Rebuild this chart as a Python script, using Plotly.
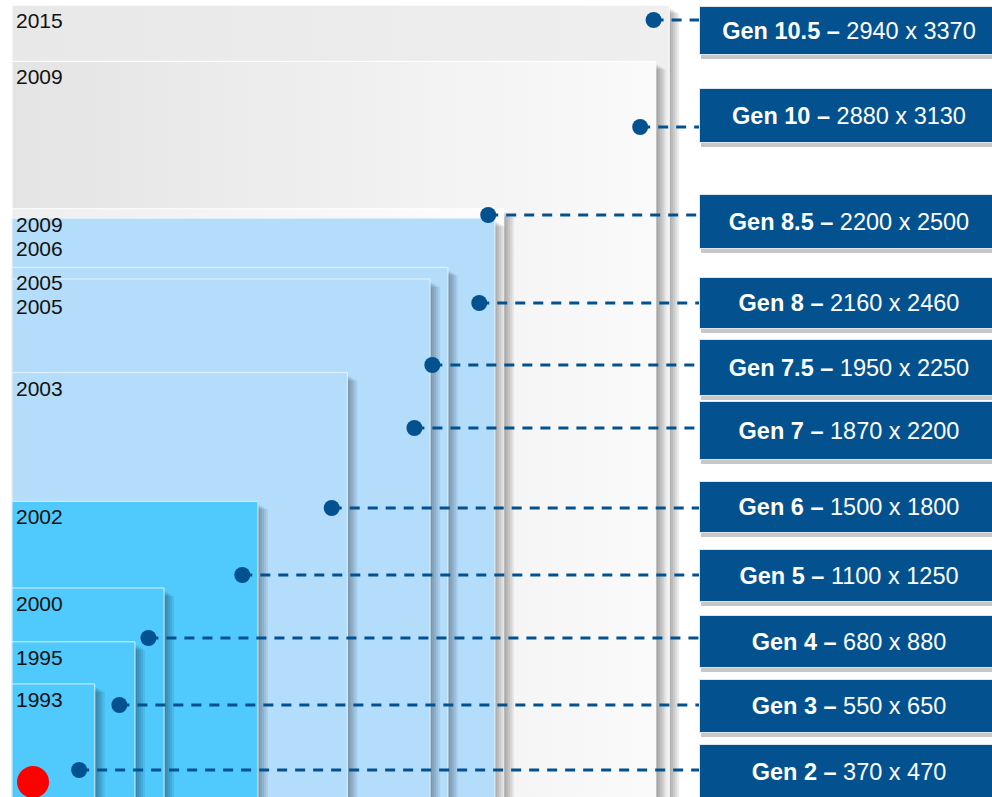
import plotly.graph_objects as go

# LCD mother-glass generations, smallest to largest (sizes in mm)
gens = ["2", "3", "4", "5", "6", "7", "7.5", "8", "8.5", "10", "10.5"]
years = ["1993", "1995", "2000", "2002", "2003", "2005", "2005", "2006", "2009", "2009", "2015"]
width_mm = [370, 550, 680, 1100, 1500, 1870, 1950, 2160, 2200, 2880, 2940]
height_mm = [470, 650, 880, 1250, 1800, 2200, 2250, 2460, 2500, 3130, 3370]

# ---- canvas / axis geometry -------------------------------------------------
W, H = 992, 797
XR = [-54, 4384]      # x range in mm across the full canvas width
YR = [-13, 3392]      # y range in mm across the full canvas height


def px_x(px):
    """canvas pixel column -> x data value"""
    return XR[0] + px / W * (XR[1] - XR[0])


def px_y(py):
    """canvas pixel row (from top) -> y data value"""
    return YR[1] - py / H * (YR[1] - YR[0])


MM_PER_PX_X = (XR[1] - XR[0]) / W
MM_PER_PX_Y = (YR[1] - YR[0]) / H
BOTTOM = YR[0] - 50

# ---- styling per tier --------------------------------------------------------
LIGHT = "#b4ddfc"
BRIGHT = "#50c9fd"
NAVY = "#03528f"
GRAY_GRAD = {8: ("#eeeeee", "#fdfdfd"), 9: ("#e4e4e4", "#fafafa"), 10: ("#e8e8e8", "#efefef")}


def style_for(i):
    """(fill colour or gradient stops, edge colour) for generation index i"""
    if i <= 3:
        return (BRIGHT, BRIGHT), "#d8f1ff"
    if i <= 7:
        return (LIGHT, LIGHT), "#e6f4ff"
    return GRAY_GRAD[i], "#ffffff"


# label column (pixel layout of the callout boxes, top..bottom per generation)
box_top = [744, 679, 615, 549, 481, 401, 339, 277, 194, 88, 6]
box_bot = [800, 733, 668, 602, 533, 460, 396, 329, 249, 143, 55]
leader_py = [770, 705, 638, 575, 508, 428, 365, 303, 215, 127, 20]
BOX_LEFT = 699

fig = go.Figure()
shapes = []


def rect_trace(w, h, fill=None, grad=None, edge=None):
    kw = dict(
        x=[0, w, w, 0, 0], y=[BOTTOM, BOTTOM, h, h, BOTTOM],
        mode="lines", fill="toself", hoverinfo="skip",
        line=dict(color=edge or "rgba(0,0,0,0)", width=1 if edge else 0),
    )
    if grad is not None:
        kw["fillgradient"] = dict(type="horizontal",
                                  colorscale=[[0, grad[0]], [1, grad[1]]])
    else:
        kw["fillcolor"] = fill
    return go.Scatter(**kw)


# nested substrate rectangles, biggest first so smaller ones sit on top
for i in reversed(range(len(gens))):
    w, h = width_mm[i], height_mm[i]
    # soft drop shadow to the right
    for k in (10, 8, 6, 4, 2):
        fig.add_trace(rect_trace(w + k * MM_PER_PX_X,
                                 h - (k * 0.6 + 2) * MM_PER_PX_Y,
                                 fill="rgba(0,0,0,0.07)"))
    grad, edge = style_for(i)
    if grad[0] == grad[1]:
        fig.add_trace(rect_trace(w, h, fill=grad[0], edge=edge))
    else:
        fig.add_trace(rect_trace(w, h, grad=grad, edge=edge))

# year tags in the top-left corner of each rectangle, kept from colliding
annotations = []
gap = 24 * MM_PER_PX_Y
prev = None
tag_y = [0] * len(gens)
for i in reversed(range(len(gens))):
    y = height_mm[i] - 2 * MM_PER_PX_Y
    if prev is not None:
        y = min(y, prev - gap)
    tag_y[i] = y
    prev = y
for i in range(len(gens)):
    annotations.append(dict(
        x=0, y=tag_y[i], xref="x", yref="y", xanchor="left", yanchor="top",
        xshift=2, text=years[i], showarrow=False,
        font=dict(family="Liberation Sans, Arial", size=21, color="#111111"),
    ))

# dots + dashed leaders from each rectangle to its callout box
dot_x = [w - 70 for w in width_mm]
dot_y = [px_y(p) for p in leader_py]
lx, ly = [], []
for i in range(len(gens)):
    lx += [dot_x[i], px_x(BOX_LEFT), None]
    ly += [dot_y[i], dot_y[i], None]
fig.add_trace(go.Scatter(
    x=lx, y=ly, mode="lines", hoverinfo="skip",
    line=dict(color=NAVY, width=3, dash="10px,8px"),
))
fig.add_trace(go.Scatter(
    x=dot_x, y=dot_y, mode="markers", hoverinfo="skip",
    marker=dict(color=NAVY, size=16, line=dict(width=0)),
))

# callout boxes
for i in range(len(gens)):
    t, b = box_top[i], box_bot[i]
    shapes.append(dict(
        type="rect", xref="paper", yref="paper", layer="above",
        x0=(BOX_LEFT + 2) / W, x1=1.02, y0=1 - (b + 4) / H, y1=1 - (t + 4) / H,
        fillcolor="rgba(0,0,0,0.22)", line=dict(width=0),
    ))
    annotations.append(dict(
        x=BOX_LEFT / W, y=1 - (t + b) / 2 / H, xref="paper", yref="paper",
        xanchor="left", yanchor="middle", showarrow=False,
        width=298, height=b - t - 2, align="center", valign="middle",
        bgcolor=NAVY, bordercolor="#dce6f0", borderwidth=1, borderpad=0,
        text=f"<b>Gen {gens[i]} –</b> {width_mm[i]} x {height_mm[i]}",
        font=dict(family="Liberation Sans, Arial", size=23.5, color="white"),
    ))

# red marker at the origin corner
shapes.append(dict(
    type="circle", xref="paper", yref="paper", layer="above",
    x0=17 / W, x1=49 / W, y0=1 - 798 / H, y1=1 - 766 / H,
    fillcolor="#ff0000", line=dict(width=0),
))

fig.update_layout(
    width=W, height=H, margin=dict(l=0, r=0, t=0, b=0),
    paper_bgcolor="white", plot_bgcolor="white", showlegend=False,
    xaxis=dict(range=XR, visible=False, fixedrange=True),
    yaxis=dict(range=YR, visible=False, fixedrange=True),
    shapes=shapes, annotations=annotations,
)
fig.write_html("out.html")
